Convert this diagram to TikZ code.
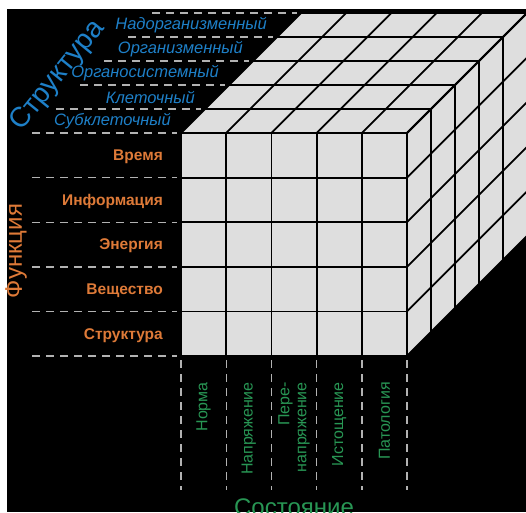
\documentclass[tikz,border=0pt]{standalone}
\usepackage{fontspec}
\setmainfont{Liberation Sans}
\definecolor{cubegray}{RGB}{222,222,222}
\definecolor{strblue}{RGB}{30,128,200}
\definecolor{fnorange}{RGB}{222,122,56}
\definecolor{stgreen}{RGB}{40,150,84}
\definecolor{dashgray}{RGB}{178,178,178}

\tikzset{
  gridline/.style={line width=1.8pt, black},
  guide/.style={dashgray, line width=1.4pt, dash pattern=on 8pt off 6pt},
  strlabel/.style={strblue, font=\itshape\fontsize{16.5}{16.5}\selectfont, anchor=east, inner sep=0pt},
  fnlabel/.style={fnorange, font=\bfseries\fontsize{15.5}{15.5}\selectfont, anchor=east, inner sep=0pt},
  stlabel/.style={stgreen, font=\fontsize{16}{17}\selectfont, rotate=90, anchor=east, align=right, inner sep=0pt},
}

% cell width, row height, depth step
\def\cw{45.2}
\def\rh{44.6}
\def\dd{24}

\begin{document}
\begin{tikzpicture}[x=1pt,y=-1pt]
    \useasboundingbox (0,0) rectangle (526,512);
    \fill[white] (0,0) rectangle (526,512);
    \fill[black] (7,9) rectangle (526,512);

    % faces of the cube
    \fill[cubegray] (181,133) rectangle (407,356);
    \fill[cubegray] (181,133) -- ++(120,-120) -- ++(226,0) -- (407,133) -- cycle;
    \fill[cubegray] (407,133) -- ++(120,-120) -- ++(0,223) -- (407,356) -- cycle;

    % front face
    \foreach \i in {0,...,5} {
        \draw[gridline] (181+\i*\cw,133) -- (181+\i*\cw,356);
        \draw[gridline] (181,133+\i*\rh) -- (407,133+\i*\rh);
    }
    % top face
    \foreach \i in {0,...,5} {
        \draw[gridline] (181+\i*\cw,133) -- ++(120,-120);
        \draw[gridline] (181+\i*\dd,133-\i*\dd) -- (407+\i*\dd,133-\i*\dd);
    }
    % right face
    \foreach \i in {0,...,5} {
        \draw[gridline] (407+\i*\dd,133-\i*\dd) -- (407+\i*\dd,356-\i*\dd);
        \draw[gridline] (407,133+\i*\rh) -- ++(120,-120);
    }

    % Structure
    \foreach \k in {0,...,5}
        \draw[guide] (32+\k*\dd,133-\k*\dd) -- (177+\k*\dd,133-\k*\dd);
    \foreach \txt [count=\k from 0] in {Субклеточный,Клеточный,Органосистемный,Организменный,Надорганизменный}
        \node[strlabel] (str\k) at (171+\k*\dd,121-\k*\dd) {\txt};
    \node[strblue, font=\fontsize{28}{28}\selectfont, rotate=51] (structure) at (58,76) {Структура};

    % Function
    \foreach \j in {1,...,5}
        \draw[guide] (32,133+\j*\rh) -- (177,133+\j*\rh);
    \foreach \txt [count=\j from 0] in {Время,Информация,Энергия,Вещество,Структура}
        \node[fnlabel] (fn\j) at (163,134.5+\j*\rh+0.5*\rh) {\txt};
    \node[fnorange, font=\fontsize{24}{24}\selectfont, rotate=90] (function) at (16,251) {Функция};

    % State
    \foreach \i in {0,...,5}
        \draw[guide] (181+\i*\cw,360) -- (181+\i*\cw,490);
    \foreach \txt [count=\i from 0] in {Норма,Напряжение,{Пере-\\напряжение},Истощение,Патология}
        \node[stlabel] (st\i) at (181+\i*\cw+0.5*\cw,382) {\txt};
    \node[stgreen, font=\fontsize{24}{24}\selectfont, anchor=base] (state) at (294,515) {Состояние};

\end{tikzpicture}
\end{document}
